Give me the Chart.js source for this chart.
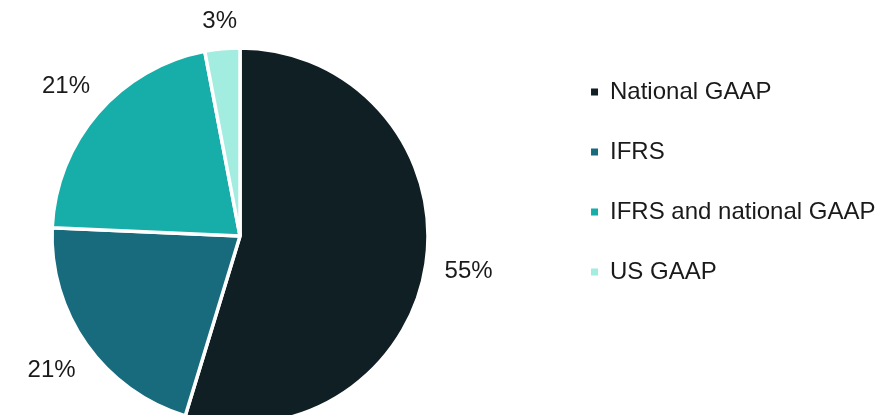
<!DOCTYPE html>
<html>
<head>
<meta charset="utf-8">
<script src="https://cdn.jsdelivr.net/npm/chart.js@4/dist/chart.umd.min.js"></script>
<style>
  html, body { margin: 0; padding: 0; background: #ffffff; overflow: hidden; }
  #wrap { width: 896px; height: 415px; overflow: hidden; position: relative; }
  canvas { display: block; position: absolute; left: -75px; top: 0; }
</style>
</head>
<body>
<div id="wrap"><canvas id="c" width="971" height="428"></canvas></div>
<script>
const categories = ['National GAAP', 'IFRS', 'IFRS and national GAAP', 'US GAAP'];
const shares = [54.7, 21.0, 21.3, 3.0];
const sliceColors = ['#0f1f24', '#186b7c', '#17aeaa', '#a3ece0'];

const FONT = '"Liberation Sans", Arial, sans-serif';

const pctLabels = {
  id: 'pctLabels',
  afterDatasetsDraw(chart) {
    const ctx = chart.ctx;
    const meta = chart.getDatasetMeta(0);
    ctx.save();
    ctx.font = '24px ' + FONT;
    ctx.fillStyle = '#1a1a1a';
    ctx.textAlign = 'center';
    ctx.textBaseline = 'middle';
    meta.data.forEach((arc, i) => {
      const p = arc.getProps(['x', 'y', 'startAngle', 'endAngle', 'outerRadius'], true);
      const mid = (p.startAngle + p.endAngle) / 2;
      const dx = Math.cos(mid), dy = Math.sin(mid);
      const text = Math.round(shares[i]) + '%';
      const hw = ctx.measureText(text).width / 2, hh = 9;
      const r = p.outerRadius + 18 + hw * Math.abs(dx) + hh * Math.abs(dy);
      ctx.fillText(text, p.x + dx * r, p.y + dy * r + 1);
    });
    ctx.restore();
  }
};

new Chart(document.getElementById('c'), {
  type: 'pie',
  data: {
    labels: categories,
    datasets: [{
      data: shares,
      backgroundColor: sliceColors,
      borderColor: '#ffffff',
      borderWidth: 3.5
    }]
  },
  options: {
    responsive: false,
    devicePixelRatio: 1,
    animation: false,
    radius: 188,
    layout: { padding: { left: 0, right: 10.5, top: 44, bottom: 0 } },
    plugins: {
      tooltip: { enabled: false },
      legend: {
        position: 'right',
        align: 'start',
        labels: {
          boxWidth: 7,
          boxHeight: 7,
          padding: 36,
          color: '#1a1a1a',
          font: { size: 24, family: FONT },
          generateLabels: (chart) =>
            Chart.overrides.pie.plugins.legend.labels.generateLabels(chart)
              .map(l => Object.assign({}, l, { lineWidth: 0, strokeStyle: l.fillStyle }))
        }
      }
    }
  },
  plugins: [pctLabels]
});
</script>
</body>
</html>
